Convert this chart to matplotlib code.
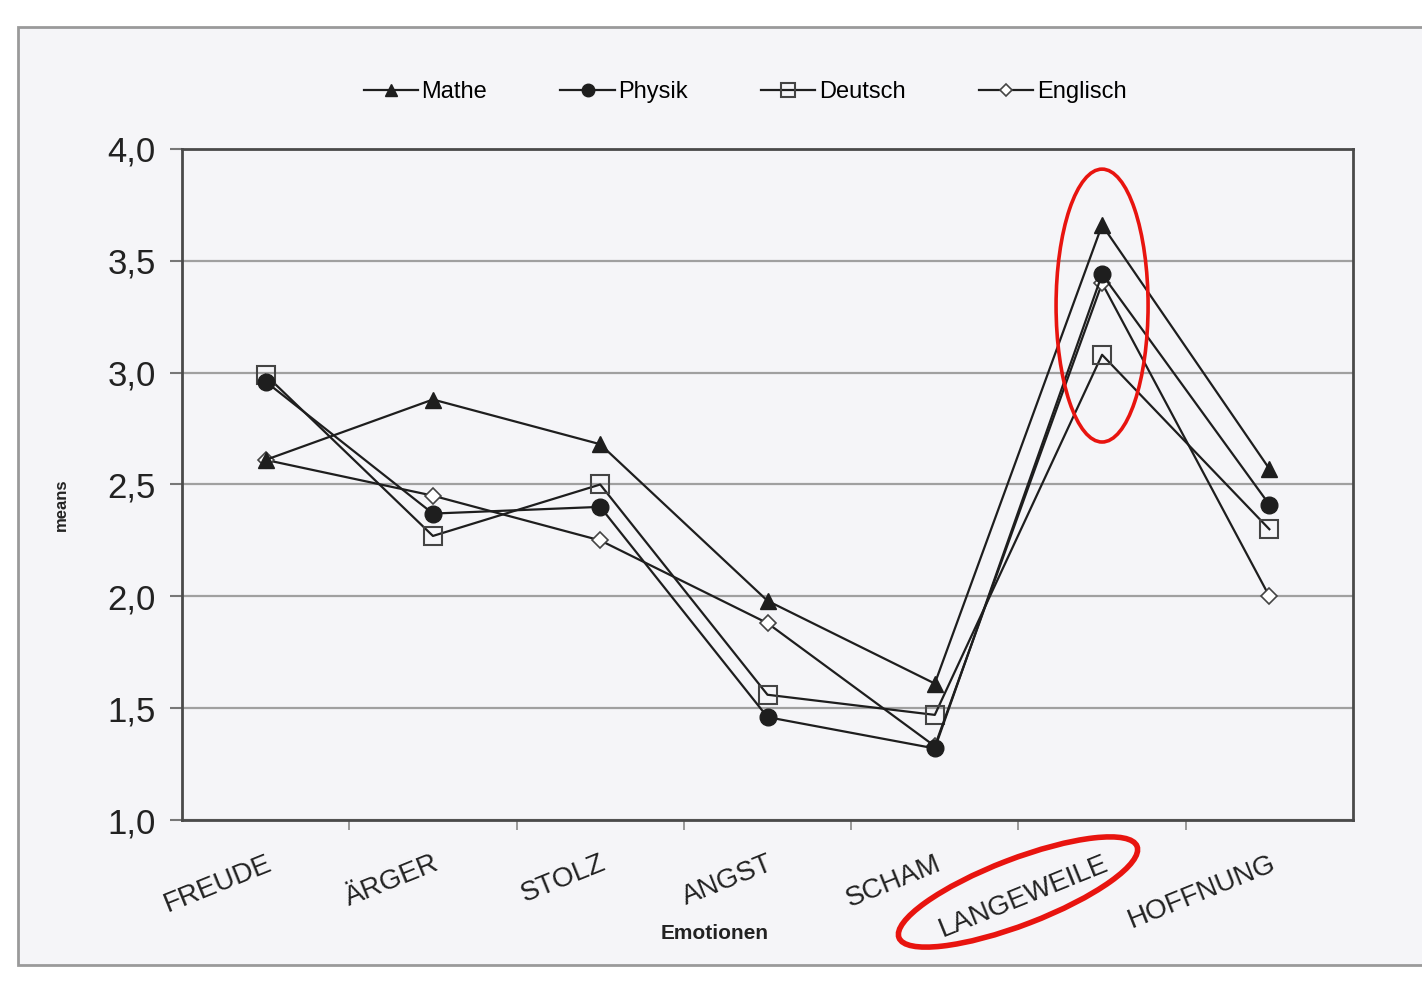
import numpy as np
import matplotlib
matplotlib.use("Agg")
from matplotlib import pyplot as plt
from matplotlib.patches import Ellipse, Rectangle

emotions = ['FREUDE', 'ÄRGER', 'STOLZ', 'ANGST', 'SCHAM', 'LANGEWEILE', 'HOFFNUNG']
mathe = [2.61, 2.88, 2.68, 1.98, 1.61, 3.66, 2.57]
physik = [2.96, 2.37, 2.40, 1.46, 1.32, 3.44, 2.41]
deutsch = [2.99, 2.27, 2.50, 1.56, 1.47, 3.08, 2.30]
englisch = [2.61, 2.45, 2.25, 1.88, 1.33, 3.40, 2.00]
yticks = [1.0, 1.5, 2.0, 2.5, 3.0, 3.5, 4.0]

plt.rcParams['font.family'] = ['Liberation Sans', 'DejaVu Sans']
bg = '#f5f5f8'
ink = '#1e1e1e'

fig = plt.figure(figsize=(14.22, 9.83), dpi=100, facecolor='white')
fig.patches.append(Rectangle((18 / 1422, 1 - 965 / 983), 1, (965 - 27) / 983,
                             transform=fig.transFigure, facecolor=bg,
                             edgecolor='#9a9a9a', lw=2, zorder=-10))

ax = fig.add_axes([182 / 1422, 1 - 820 / 983, (1353 - 182) / 1422, (820 - 149) / 983])
ax.set_facecolor(bg)

x = np.arange(len(emotions))
ax.plot(x, mathe, color=ink, lw=1.6, marker='^', ms=11, mfc=ink, mec=ink, label='Mathe', zorder=5)
ax.plot(x, physik, color=ink, lw=1.6, marker='o', ms=12, mfc=ink, mec=ink, label='Physik', zorder=5)
ax.plot(x, deutsch, color=ink, lw=1.6, marker='s', ms=13, mfc='none', mec='#444444', mew=1.5, label='Deutsch', zorder=4)
ax.plot(x, englisch, color=ink, lw=1.6, marker='D', ms=8, mfc='white', mec='#444444', mew=1.2, label='Englisch', zorder=4)

ax.set_xlim(-0.5, len(emotions) - 0.5)
ax.set_ylim(1.0, 4.0)
ax.set_yticks(yticks)
ax.set_yticklabels([f'{v:.1f}'.replace('.', ',') for v in yticks], fontsize=25, color='#222222')
ax.yaxis.grid(True, color='#a0a0a0', lw=1.6)
ax.set_axisbelow(True)
ax.tick_params(axis='y', length=9, width=1.5, color='#777777', pad=10)

ax.set_xticks(x)
ax.set_xticklabels(emotions, rotation=22, ha='right', rotation_mode='anchor',
                   fontsize=20, color='#222222')
ax.tick_params(axis='x', which='major', length=0, pad=22)
ax.set_xticks(np.arange(0.5, len(emotions) - 0.5), minor=True)
ax.tick_params(axis='x', which='minor', length=7, width=1.2, color='#888888')

for s in ax.spines.values():
    s.set_color('#4a4a4a')
    s.set_linewidth(2)

ax.set_xlabel('Emotionen', fontsize=15, fontweight='bold', color='#222222', labelpad=2)
ax.set_ylabel('means', fontsize=12, fontweight='bold', color='#222222')
ax.yaxis.set_label_coords(-0.097, 0.47)
ax.xaxis.set_label_coords(0.455, -0.155)

fig.legend(loc='center', bbox_to_anchor=(745 / 1422, 1 - 92 / 983), ncol=4, frameon=False,
           fontsize=17, handlelength=2.3, columnspacing=3.1, handletextpad=0.15,
           markerscale=0.75)

# red highlight around LANGEWEILE
ax.add_patch(Ellipse((5, 3.30), 0.55, 1.22, fill=False, edgecolor='#e8140f', lw=2.6, zorder=6))
fig.patches.append(Ellipse((10.18, 0.91), 2.55, 0.66, angle=21, fill=False,
                           edgecolor='#e8140f', lw=4, transform=fig.dpi_scale_trans))

fig.savefig('out.png', dpi=100, facecolor='white')
